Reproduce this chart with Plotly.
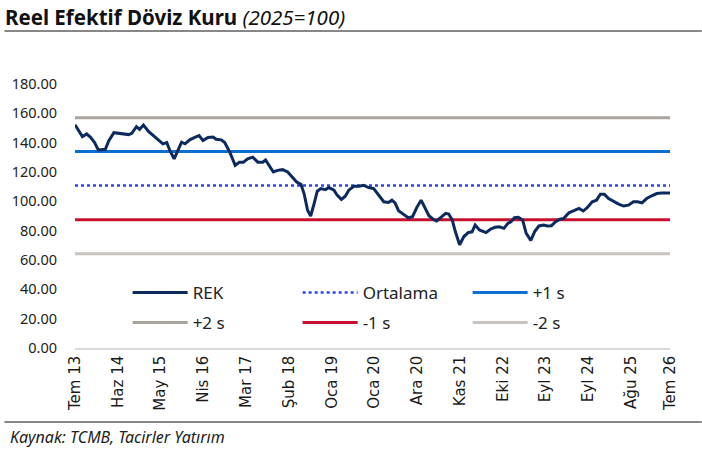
import plotly.graph_objects as go

# ---- data ----
tick_labels = ["Tem 13", "Haz 14", "May 15", "Nis 16", "Mar 17", "Şub 18", "Oca 19",
               "Oca 20", "Ara 20", "Kas 21", "Eki 22", "Eyl 23", "Eyl 24", "Ağu 25", "Tem 26"]
tick_index = [0, 11, 22, 33, 44, 55, 66, 77, 88, 99, 110, 121, 132, 143, 153]

# observation index (category position) and REK values
obs_t = [0, 1.9, 3.0, 4.0, 5.0, 6.0, 7.8, 8.7, 10.0, 11.2, 12.5, 13.8, 14.6, 15.8, 16.6,
         17.6, 18.9, 20.2, 21.5, 22.6, 23.6, 24.4, 25.5, 26.6, 27.4, 28.3, 29.5, 30.8,
         31.9, 32.9, 34.2, 35.5, 36.3, 37.6, 38.5, 39.8, 41.2, 42.3, 43.3, 44.4, 45.7,
         47.0, 48.3, 49.0, 50.0, 51.0, 52.1, 53.4, 54.7, 55.9, 57.0, 58.1, 58.9, 59.8,
         60.6, 61.5, 62.3, 63.2, 64.4, 65.3, 66.6, 67.4, 68.5, 69.5, 70.4, 71.7, 73.0,
         74.2, 75.5, 76.8, 78.1, 79.4, 80.6, 81.5, 82.3, 83.2, 84.5, 85.7, 86.8, 87.9,
         89.0, 90.0, 91.0, 92.1, 93.0, 94.1, 95.3, 96.1, 97.0, 97.8, 98.9, 100.0, 101.1,
         102.1, 102.9, 104.0, 104.9, 105.7, 106.8, 108.0, 109.1, 110.3, 111.3, 112.1,
         113.0, 114.0, 115.1, 116.0, 117.2, 118.2, 119.3, 120.5, 121.5, 122.5, 123.6,
         124.7, 125.7, 127.0, 128.3, 129.6, 130.7, 131.7, 133.0, 134.1, 135.1, 136.1,
         137.2, 138.5, 139.8, 141.1, 142.3, 143.6, 144.6, 145.8, 147.0, 148.3, 149.6,
         150.9, 152.1, 153.0]
rek = [152.2, 144.1, 146.0, 143.6, 140.3, 135.0, 135.5, 141.4, 146.8, 146.4, 146.0, 145.5,
       146.4, 150.9, 149.1, 152.0, 147.7, 144.8, 141.9, 139.2, 140.1, 134.6, 129.0, 135.1,
       140.3, 139.2, 141.9, 143.6, 144.8, 141.4, 143.6, 143.9, 142.3, 141.9, 140.1, 133.5,
       124.5, 126.7, 126.7, 129.0, 130.1, 126.7, 126.7, 128.2, 123.8, 120.0, 121.1, 121.6,
       120.0, 116.6, 113.2, 111.6, 105.3, 94.0, 90.0, 98.6, 106.9, 108.7, 108.0, 109.4,
       107.6, 104.2, 101.3, 103.5, 107.6, 110.3, 110.3, 111.0, 109.4, 108.7, 104.2, 99.7,
       99.2, 100.8, 99.0, 93.6, 91.1, 88.8, 89.5, 95.9, 100.8, 95.2, 90.2, 87.8, 86.6,
       89.1, 91.8, 91.3, 87.3, 79.4, 70.4, 76.0, 78.7, 79.2, 83.9, 80.5, 79.8, 78.7, 81.0,
       82.3, 82.7, 81.6, 85.0, 86.1, 88.8, 89.1, 87.3, 78.3, 73.3, 79.4, 83.2, 83.9, 83.2,
       83.4, 86.1, 87.8, 88.4, 92.2, 93.6, 95.2, 93.4, 95.7, 99.7, 100.8, 104.9, 104.9,
       101.9, 99.7, 98.1, 96.8, 97.4, 99.7, 99.7, 99.0, 101.9, 103.8, 105.3, 105.7, 105.7,
       105.7]

band_names = ["Ortalama", "+1 s", "+2 s", "-1 s", "-2 s"]
band_levels = [110.8, 134.0, 157.0, 87.4, 64.2]

y_ticks = [0, 20, 40, 60, 80, 100, 120, 140, 160, 180]

# ---- styles ----
styles = {
    "Ortalama": dict(color="#2f45e8", width=2.5, dash="dot"),
    "+1 s": dict(color="#0b6fcf", width=3),
    "+2 s": dict(color="#a9a49c", width=3),
    "-1 s": dict(color="#c8102e", width=3),
    "-2 s": dict(color="#c9c5be", width=3),
}
legend_of = {"REK": "legend", "Ortalama": "legend", "+1 s": "legend",
             "+2 s": "legend2", "-1 s": "legend2", "-2 s": "legend2"}
order = ["REK", "Ortalama", "+1 s", "+2 s", "-1 s", "-2 s"]
FONT = "Noto Sans"

fig = go.Figure()
x_start, x_end = tick_index[0], tick_index[-1]

for nm, lv in zip(band_names, band_levels):
    fig.add_trace(go.Scatter(x=[x_start, x_end], y=[lv, lv], mode="lines", name=nm,
                             line=styles[nm], legend=legend_of[nm],
                             legendrank=order.index(nm) + 1))
fig.add_trace(go.Scatter(x=obs_t, y=rek, mode="lines", name="REK",
                         line=dict(color="#0d2a5e", width=3), legend="legend",
                         legendrank=1))

W, H = 702, 451
L, R, T, B = 71, 32, 84, 103
pw, ph = W - L - R, H - T - B


def px_x(p):
    return (p - L) / pw


def px_y(p):
    return (H - B - p) / ph


leg_common = dict(orientation="h", xanchor="left", yanchor="top",
                  entrywidth=100, entrywidthmode="pixels", itemwidth=55,
                  font=dict(size=17, family=FONT, color="#222222"),
                  bgcolor="rgba(0,0,0,0)", traceorder="normal")

fig.update_layout(
    width=W, height=H,
    margin=dict(l=L, r=R, t=T, b=B, pad=0),
    paper_bgcolor="white", plot_bgcolor="white",
    font=dict(family=FONT, color="#222222"),
    showlegend=True,
    legend=dict(x=px_x(124), y=px_y(275), **leg_common),
    legend2=dict(x=px_x(124), y=px_y(305), **leg_common),
    title=dict(text="<b>Reel Efektif Döviz Kuru</b> <i>(2025=100)</i>",
               x=5 / W, xref="container", xanchor="left",
               y=1 - 18 / H, yref="container", yanchor="middle",
               font=dict(size=20.5, family=FONT, color="#111111")),
    xaxis=dict(range=[x_start, x_end], tickmode="array", tickvals=tick_index,
               ticktext=tick_labels, tickangle=-90, showgrid=False, zeroline=False,
               showline=True, linecolor="#d9d9d9", linewidth=1.5, ticks="",
               tickfont=dict(size=15, family="DejaVu Sans", color="#1a1a1a")),
    yaxis=dict(range=[0, 180], tickmode="array", tickvals=y_ticks, tickformat=".2f",
               showgrid=False, zeroline=False, showline=False, ticks="",
               ticklabelstandoff=17,
               tickfont=dict(size=14.5, family=FONT, color="#222222")),
)

# title rule and source rule
fig.add_shape(type="line", xref="paper", yref="paper", x0=px_x(0), x1=px_x(W),
              y0=px_y(31), y1=px_y(31), line=dict(color="#111111", width=1.2))
fig.add_shape(type="line", xref="paper", yref="paper", x0=px_x(0), x1=px_x(W),
              y0=px_y(422), y1=px_y(422), line=dict(color="#111111", width=1.2))
fig.add_annotation(text="<i>Kaynak: TCMB, Tacirler Yatırım</i>", xref="paper", yref="paper",
                   x=px_x(4), y=px_y(437), xanchor="left", yanchor="middle",
                   showarrow=False, font=dict(size=16, family=FONT, color="#222222"))

fig.write_html("out.html", config={"displayModeBar": False},
               post_script="document.body.style.margin='0';")
